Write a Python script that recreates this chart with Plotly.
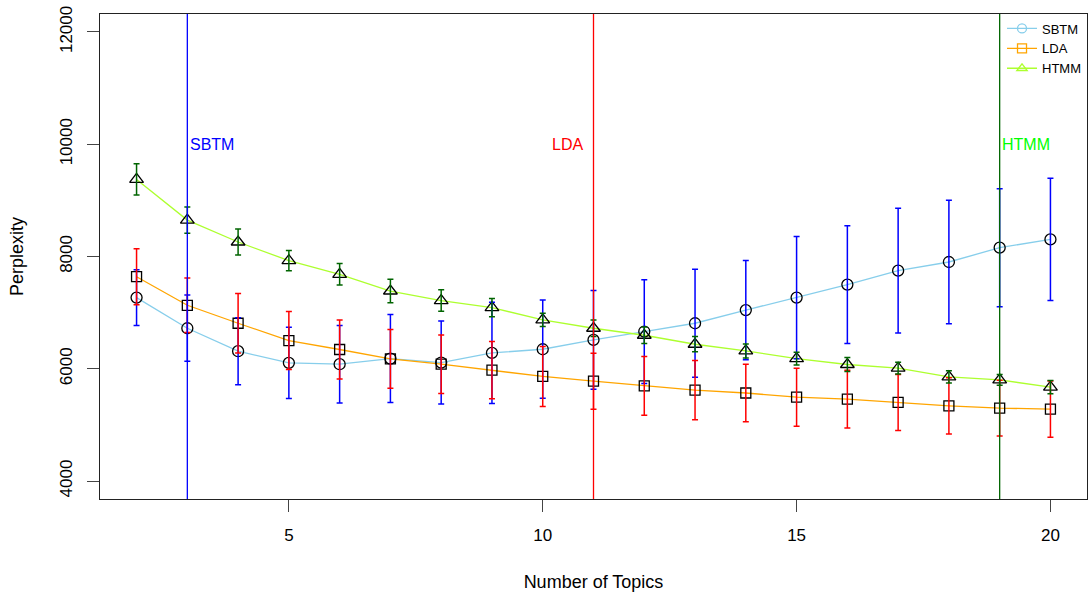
import plotly.graph_objects as go

topics = list(range(2, 21))

sbtm_mean = [7268, 6722, 6313, 6105, 6081, 6182, 6111, 6283, 6348, 6514, 6663,
             6811, 7045, 7268, 7499, 7748, 7902, 8157, 8305]
sbtm_sd = [498, 590, 596, 635, 690, 785, 740, 900, 875, 880, 925,
           963, 885, 1090, 1049, 1111, 1100, 1052, 1091]

lda_mean = [7640, 7131, 6811, 6503, 6343, 6176, 6081, 5975, 5863, 5779, 5696,
            5619, 5568, 5494, 5459, 5400, 5340, 5299, 5281]
lda_sd = [498, 486, 528, 518, 525, 525, 522, 510, 533, 498, 522,
          528, 513, 516, 516, 500, 502, 495, 500]

htmm_mean = [9373, 8649, 8258, 7926, 7683, 7385, 7215, 7089, 6870, 6722, 6597,
             6437, 6318, 6182, 6076, 6010, 5856, 5802, 5672]
htmm_sd = [278, 234, 231, 182, 192, 210, 192, 163, 119, 148, 145,
           136, 125, 113, 124, 104, 110, 95, 118]

best_k = {"SBTM": 3, "LDA": 11, "HTMM": 19}
label_y = 10000

x_ticks = [5, 10, 15, 20]
y_ticks = [4000, 6000, 8000, 10000, 12000]

FONT = "Liberation Sans, Arial, sans-serif"

series = [
    dict(name="SBTM", mean=sbtm_mean, sd=sbtm_sd, line="#87CEEB", err="#0000FF",
         sym="circle-open", size=11, vline="#0000FF", text="#0000FF",
         anchor="left", shift=1),
    dict(name="LDA", mean=lda_mean, sd=lda_sd, line="#FFA500", err="#FF0000",
         sym="square-open", size=10, vline="#FF0000", text="#FF0000",
         anchor="right", shift=-9),
    dict(name="HTMM", mean=htmm_mean, sd=htmm_sd, line="#ADFF2F", err="#006400",
         sym="triangle-up-open", size=12, vline="#006400", text="#00FF00",
         anchor="left", shift=0),
]

fig = go.Figure()

# colored lines
for s in series:
    fig.add_trace(go.Scatter(x=topics, y=s["mean"], mode="lines",
                             line=dict(color=s["line"], width=1.3),
                             showlegend=False, hoverinfo="skip"))
# black markers
for s in series:
    fig.add_trace(go.Scatter(x=topics, y=s["mean"], mode="markers",
                             marker=dict(symbol=s["sym"], size=s["size"], color="black",
                                         line=dict(color="black", width=1.3)),
                             showlegend=False, hoverinfo="skip"))
# error bars
for s in series:
    fig.add_trace(go.Scatter(x=topics, y=s["mean"], mode="markers",
                             marker=dict(size=1, opacity=0),
                             error_y=dict(type="data", array=s["sd"], visible=True,
                                          color=s["err"], thickness=1.5, width=3),
                             showlegend=False, hoverinfo="skip"))
# legend entries
for s in series:
    fig.add_trace(go.Scatter(x=[None], y=[None], mode="lines+markers", name=s["name"],
                             line=dict(color=s["line"], width=1.3),
                             marker=dict(symbol=s["sym"], size=9, color=s["line"],
                                         line=dict(color=s["line"], width=1.3))))

for s in series:
    k = best_k[s["name"]]
    fig.add_vline(x=k, line=dict(color=s["vline"], width=1.3), layer="above")
    fig.add_annotation(x=k, y=label_y, text=s["name"], showarrow=False,
                       xanchor=s["anchor"], xshift=s["shift"], yanchor="middle",
                       font=dict(family=FONT, size=16, color=s["text"]))

axis_common = dict(showline=True, linecolor="#222222", linewidth=1, mirror=True,
                   ticks="outside", ticklen=12, tickwidth=1, tickcolor="#444444",
                   showgrid=False, zeroline=False, automargin=False,
                   ticklabeloverflow="allow",
                   tickfont=dict(family=FONT, size=17, color="black"))

fig.update_xaxes(range=[1.28, 20.72], tickvals=x_ticks, ticktext=[str(v) for v in x_ticks],
                 ticklabelstandoff=9,
                 title=dict(text="Number of Topics", standoff=30,
                            font=dict(family=FONT, size=18, color="black")),
                 **axis_common)
fig.update_yaxes(range=[3680, 12320], tickvals=y_ticks, ticktext=[str(v) for v in y_ticks],
                 tickangle=-90, ticklabelstandoff=8,
                 title=dict(text="Perplexity", standoff=28,
                            font=dict(family=FONT, size=18, color="black")),
                 **axis_common)

fig.update_layout(
    width=1089, height=599,
    margin=dict(l=100, r=2, t=14, b=100),
    plot_bgcolor="white", paper_bgcolor="white",
    font=dict(family=FONT, size=14, color="black"),
    legend=dict(x=0.999, xanchor="right", y=1.001, yanchor="top",
                bgcolor="rgba(0,0,0,0)", borderwidth=0,
                font=dict(family=FONT, size=13, color="black"),
                itemwidth=30, tracegroupgap=0),
    showlegend=True,
)

# remove the browser's default 8px page margin so the figure fills the window
fig.write_html("out.html", config={"displayModeBar": False},
               post_script="document.body.style.margin='0';")
